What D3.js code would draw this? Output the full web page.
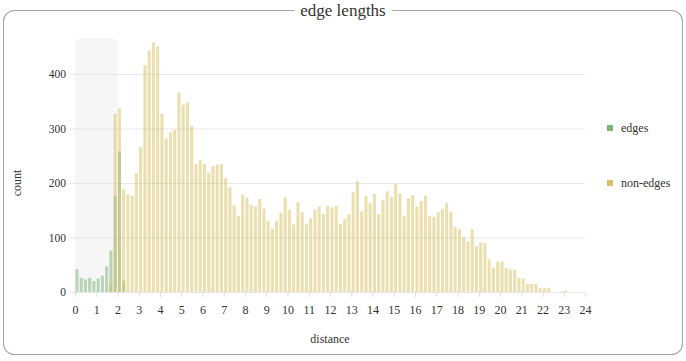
<!DOCTYPE html>
<meta charset="utf-8">
<style>
body { margin: 0; background: #fff; }
svg text { font-family: "Liberation Serif", "DejaVu Serif", serif; fill: #333; }
.grid line { stroke: #e8e8e8; }
.grid path { display: none; }
.xaxis line { stroke: #ddd; }
.xaxis path { display: none; }
</style>
<body>
<svg width="686" height="361"></svg>
</body>
<script src="https://cdn.jsdelivr.net/npm/d3@7"></script>
<script>
// histogram, bins of 0.2
var binWidth = 0.2;
var series = ["edges", "non-edges"];
var edges = [42, 26, 23, 26, 20, 25, 30, 47, 76, 176, 258, 21];
var nonEdges = [0, 0, 0, 0, 0, 0, 0, 0, 16, 327,
    337, 188, 179, 177, 218, 266, 416, 443, 458, 451,
    327, 282, 293, 298, 366, 344, 348, 305, 235, 242,
    235, 219, 231, 234, 235, 209, 192, 159, 140, 179,
    173, 160, 157, 171, 153, 131, 116, 131, 145, 174,
    151, 124, 165, 146, 124, 135, 151, 157, 143, 158,
    155, 158, 125, 134, 143, 183, 204, 148, 176, 163,
    180, 143, 169, 185, 175, 198, 181, 140, 172, 178,
    157, 167, 177, 140, 138, 146, 152, 163, 147, 119,
    115, 101, 93, 115, 84, 91, 90, 60, 45, 56,
    56, 44, 41, 41, 26, 25, 15, 15, 15, 7,
    7, 8, 0, 0, 1, 3];
var xTicks = d3.range(0, 25);
var yTicks = [0, 100, 200, 300, 400];
var edgeZone = [0, 2];

var svg = d3.select("svg");
var barColors = ["#6aab66", "#d2b850"];
var legendColors = ["#7ab77a", "#d8c064"];

var xScale = d3.scaleLinear().domain([0, 24]).range([75, 585]);
var yScale = d3.scaleLinear().domain([0, 400]).range([292, 74]);

// outer frame
svg.append("rect")
    .attr("x", 3.5).attr("y", 10.5)
    .attr("width", 679).attr("height", 344)
    .attr("rx", 11)
    .attr("fill", "none")
    .attr("stroke", "#a5a5a5")
    .attr("stroke-width", 1.1);

var title = svg.append("text")
    .attr("x", 343).attr("y", 16)
    .attr("text-anchor", "middle")
    .style("font-size", "17px")
    .text("edge lengths");
var tb = title.node().getBBox();
svg.insert("rect", "text")
    .attr("x", tb.x - 6).attr("y", 4)
    .attr("width", tb.width + 12).attr("height", 14)
    .attr("fill", "#fff");

// shaded region for edges
svg.append("rect")
    .attr("x", xScale(edgeZone[0]))
    .attr("y", 38)
    .attr("width", xScale(edgeZone[1]) - xScale(edgeZone[0]))
    .attr("height", yScale(0) - 38)
    .attr("rx", 6)
    .attr("fill", "#f6f6f6");

svg.append("g")
    .attr("class", "grid")
    .attr("transform", "translate(" + 585 + ",0)")
    .call(d3.axisLeft(yScale).tickValues(yTicks).tickSize(585 - 70).tickPadding(4).tickFormat(d3.format("d")))
    .selectAll("text").style("font-size", "11.5px");

svg.append("g")
    .attr("class", "xaxis")
    .attr("transform", "translate(0," + yScale(0) + ")")
    .call(d3.axisBottom(xScale).tickValues(xTicks).tickSize(5).tickPadding(8))
    .selectAll("text").style("font-size", "12px");

svg.selectAll(".grid text, .xaxis text").attr("fill", "#333");

var seriesData = [edges, nonEdges];

seriesData.forEach(function(vals, s) {
    svg.append("g")
        .selectAll("rect")
        .data(vals)
        .enter().append("rect")
        .attr("x", function(d, i) { return xScale(i * binWidth) + 0.4; })
        .attr("width", function(d, i) { return xScale((i + 1) * binWidth) - xScale(i * binWidth) - 1.2; })
        .attr("y", function(d) { return yScale(d); })
        .attr("height", function(d) { return yScale(0) - yScale(d); })
        .attr("fill", barColors[s])
        .attr("fill-opacity", 0.45);
});

svg.append("text")
    .attr("x", 330).attr("y", 343)
    .attr("text-anchor", "middle")
    .style("font-size", "12px")
    .text("distance");

svg.append("text")
    .attr("transform", "translate(21,183) rotate(-90)")
    .attr("text-anchor", "middle")
    .style("font-size", "12px")
    .text("count");

var legend = svg.append("g")
    .selectAll("g")
    .data(series)
    .enter().append("g")
    .attr("transform", function(d, i) { return "translate(607," + (128 + i * 55) + ")"; });

legend.append("rect")
    .attr("x", 0).attr("y", -3)
    .attr("width", 6).attr("height", 6)
    .attr("fill", function(d, i) { return legendColors[i]; });

legend.append("text")
    .attr("x", 14)
    .attr("dy", "0.32em")
    .style("font-size", "12px")
    .text(function(d) { return d; });
</script>
